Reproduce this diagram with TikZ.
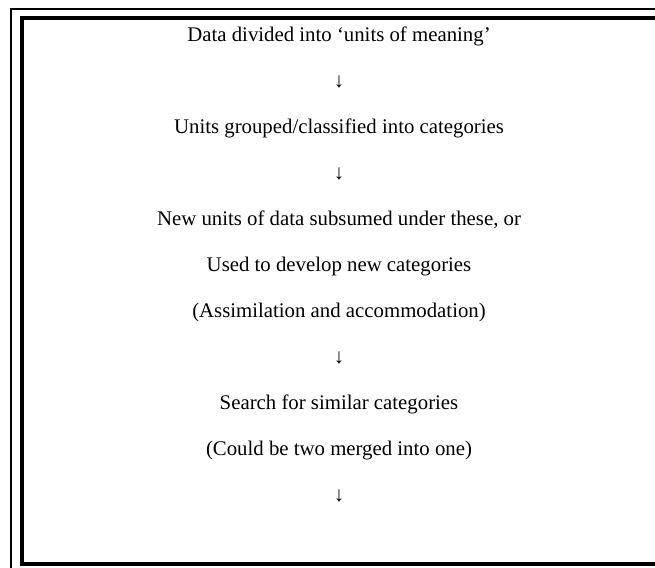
\documentclass[tikz,border=0pt]{standalone}
\usepackage{fontspec}
\setmainfont{Liberation Serif}
\begin{document}
\begin{tikzpicture}[x=0.75pt,y=-0.75pt,
    line/.style={anchor=base,font=\fontsize{15.6}{18}\selectfont},
    thinframe/.style={line width=1.5pt},
    thickframe/.style={line width=3pt}]
  \useasboundingbox (0,0) rectangle (655,567);
  \clip (0,0) rectangle (655,567);

  % double frame, cut at the right and bottom
  \draw[thinframe] (11,9) rectangle (700,620);
  \draw[thickframe] (22,18) rectangle (700,564);

  \node[line] (meaning) at (339,41) {Data divided into ‘units of meaning’};
  \node[line] (arrowa) at (339,87) {↓};
  \node[line] (grouped) at (339,133) {Units grouped/classified into categories};
  \node[line] (arrowb) at (339,179) {↓};
  \node[line] (subsumed) at (339,225) {New units of data subsumed under these, or};
  \node[line] (develop) at (339,271) {Used to develop new categories};
  \node[line] (assim) at (339,317) {(Assimilation and accommodation)};
  \node[line] (arrowc) at (339,363) {↓};
  \node[line] (similar) at (339,409) {Search for similar categories};
  \node[line] (merged) at (339,455) {(Could be two merged into one)};
  \node[line] (arrowd) at (339,501) {↓};
\end{tikzpicture}
\end{document}
